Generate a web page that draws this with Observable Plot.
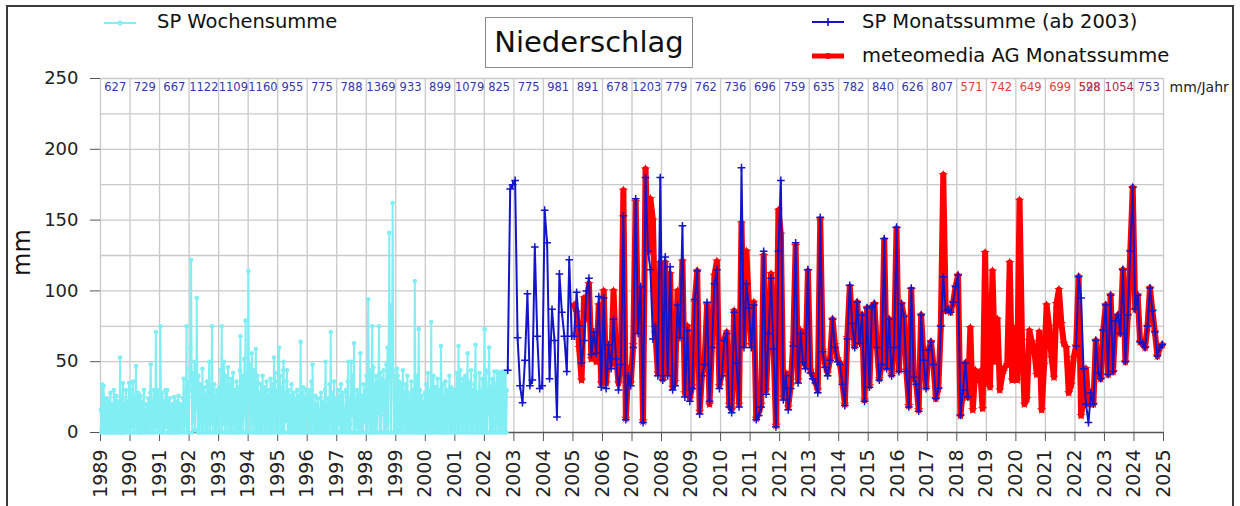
<!DOCTYPE html>
<html><head><meta charset="utf-8">
<script src="https://cdn.jsdelivr.net/npm/d3@7"></script>
<script src="https://cdn.jsdelivr.net/npm/@observablehq/plot@0.6"></script>
<style>
body{margin:0;background:#fff;font-family:"DejaVu Sans",Verdana,sans-serif;}
#wrap{position:relative;width:1240px;height:506px;overflow:hidden;}
#chart{position:absolute;left:0;top:0;}
.ov{position:absolute;white-space:nowrap;color:#111;}
#outer{position:absolute;left:6px;top:5px;width:1228px;height:560px;border:2px solid #3a3a3a;box-sizing:border-box;}
#title{position:absolute;left:485px;top:17px;width:208px;height:51px;border:1px solid #8a8a8a;box-sizing:border-box;background:#fff;font-size:29px;line-height:49px;text-align:center;color:#111;}
</style></head>
<body><div id="wrap"><div id="chart"></div>
<div id="outer"></div>
<div id="title">Niederschlag</div>
<svg class="ov" style="left:98px;top:12px" width="44" height="22"><line x1="6" y1="11" x2="38" y2="11" stroke="#80eef2" stroke-width="2"/><circle cx="22" cy="11" r="2.5" fill="#80eef2"/></svg>
<div class="ov" style="left:157px;top:10px;font-size:19.5px;line-height:24px">SP Wochensumme</div>
<svg class="ov" style="left:808px;top:11px" width="40" height="22"><line x1="4" y1="11" x2="36" y2="11" stroke="#1414c8" stroke-width="2"/><line x1="20" y1="7" x2="20" y2="15" stroke="#1414c8" stroke-width="1.6"/></svg>
<div class="ov" style="left:862px;top:10px;font-size:19.5px;line-height:24px">SP Monatssumme (ab 2003)</div>
<svg class="ov" style="left:808px;top:45px" width="40" height="22"><line x1="4" y1="11" x2="36" y2="11" stroke="#ff0000" stroke-width="5"/><circle cx="20" cy="11" r="3" fill="#ff0000"/></svg>
<div class="ov" style="left:862px;top:44px;font-size:19.5px;line-height:24px">meteomedia AG Monatssumme</div>
<div class="ov" style="left:0px;top:241px;width:44px;height:26px;font-size:24px;line-height:26px;text-align:center;transform:rotate(-90deg);">mm</div>
</div>
<script>
// ---- weekly sums SP (cyan), 1989 .. Oct 2002 ----
const w1989 = [16,0,34,33,2,33,20,0,0,18,24,0,3,22,15,0,8,28,0,4,20,0,9,30,16,0,12,26,0,0,14,22,0,2,53,0,18,0,24,35,0,4,20,0,30,2,15,22,0,10,35,0];
const w1990 = [35,0,30,4,22,36,0,0,25,14,47,0,20,3,28,0,0,18,26,0,14,0,22,2,30,4,16,0,9,20,0,2,24,0,18,28,48,0,22,0,14,30,0,20,4,71,28,0,30,8,26,0];
const w1991 = [10,75,20,0,28,12,0,22,0,14,30,4,18,30,0,0,16,24,0,12,2,20,0,14,0,25,0,18,4,22,0,0,12,26,0,16,2,20,0,14,4,24,38,0,6,30,20,75,0,4,36,0];
const w1992 = [30,45,60,122,38,0,42,8,30,50,2,36,18,95,28,0,40,22,0,34,18,26,0,45,20,0,32,14,26,0,22,36,0,18,28,50,0,24,6,30,75,0,28,10,34,0,8,26,0,30,4,22];
const w1993 = [20,32,0,44,28,75,0,36,6,50,24,0,40,8,30,0,46,12,26,0,34,38,0,22,10,42,0,30,6,26,0,36,20,0,32,24,0,44,68,0,30,10,40,0,14,52,28,79,0,36,0,26];
const w1994 = [114,30,48,0,40,24,56,0,36,20,44,0,8,59,30,0,40,35,0,28,22,0,34,16,0,40,10,24,0,32,8,0,36,14,26,0,22,30,0,38,18,0,8,34,0,53,28,42,0,30,24,0];
const w1995 = [36,0,60,18,40,0,12,32,0,44,50,0,28,8,24,36,44,0,20,30,0,16,26,0,34,4,22,0,28,10,0,24,2,20,30,0,16,26,0,22,64,0,6,28,0,32,20,0,24,0,30,12];
const w1996 = [18,26,0,30,4,20,0,36,8,48,0,12,0,18,26,0,14,20,0,24,0,16,0,12,28,0,18,4,22,0,6,30,50,0,20,0,16,24,0,34,14,71,0,10,28,0,18,36,0,24,4,0];
const w1997 = [22,0,30,6,18,26,0,34,2,20,0,28,8,16,0,4,30,0,20,36,50,0,22,6,0,50,12,26,40,0,63,0,24,4,20,30,0,16,28,0,22,56,0,18,4,26,0,34,8,20,30,0];
const w1998 = [40,0,50,94,36,0,44,30,0,38,75,0,46,18,34,0,28,40,0,14,36,30,75,0,42,12,0,38,16,30,44,0,24,36,0,48,28,60,0,50,141,40,70,0,90,55,162,44,0,40,22,0];
const w1999 = [30,0,45,40,0,36,24,0,35,28,0,30,44,20,0,26,18,34,0,22,40,0,28,16,0,10,20,36,0,24,8,30,0,107,22,0,28,40,0,24,73,0,30,20,0,26,14,0,4,22,0,28];
const w2000 = [20,34,0,26,42,0,30,18,0,14,78,0,10,28,40,0,24,6,32,0,12,38,0,8,18,30,0,61,22,0,34,16,0,4,24,36,0,20,30,0,26,18,40,0,22,32,0,28,6,0,16,30];
const w2001 = [24,0,18,42,28,0,61,30,0,44,12,34,0,8,38,22,0,16,40,24,0,32,56,0,28,12,36,0,44,26,0,30,22,0,34,40,62,0,28,16,0,12,26,42,0,30,10,0,38,20,0,32];
const w2002 = [73,0,44,20,0,14,28,42,60,0,32,24,0,38,22,0,16,43,26,0,34,20,43,0,28,18,42,0,14,36,43,0,10,30,43,0,26,42,0,30];
const weeklyYears = [1989,1990,1991,1992,1993,1994,1995,1996,1997,1998,1999,2000,2001,2002];
const weeklyLists = [w1989,w1990,w1991,w1992,w1993,w1994,w1995,w1996,w1997,w1998,w1999,w2000,w2001,w2002];

// ---- monthly sums SP (blue), from Oct 2002 ----
const sp2002 = [44,172,175]; // Oct-Dec
const sp2003 = [178,67,33,21,51,98,33,37,131,68,31,33];
const sp2004 = [157,134,38,87,65,11,112,85,68,43,122,68];
const sp2005 = [68,99,75,49,65,100,109,55,71,56,96,32];
const sp2006 = [95,31,62,45,80,52,30,48,153,9,40,33];
const sp2007 = [60,165,70,103,7,180,128,115,66,75,40,180];
const sp2008 = [37,124,40,117,30,33,90,67,146,25,72,22];
const sp2009 = [31,94,114,13,40,48,92,22,60,105,115,31];
const sp2010 = [40,65,70,18,14,85,49,18,187,60,105,88];
const sp2011 = [60,90,9,12,18,128,27,70,109,59,4,128];
const sp2012 = [178,23,40,16,31,61,134,35,70,50,45,115];
const sp2013 = [42,38,35,28,152,57,46,40,51,80,60,50];
const sp2014 = [48,34,19,66,104,77,60,92,63,83,22,88];
const sp2015 = [32,89,91,60,37,48,137,45,80,40,60,145];
const sp2016 = [43,91,82,43,18,102,39,34,15,83,51,31];
const sp2017 = [58,64,48,24,31,75,110,86,87,85,92,103];
const sp2018 = [111,12,30,49,25,null,null,null,null,null,null,null];
const sp2019 = [null,null,null,null,null,null,null,null,null,null,null,null];
const sp2020 = [null,null,null,null,null,null,null,null,null,null,null,null];
const sp2021 = [null,null,null,null,null,null,null,null,null,null,null,null];
const sp2022 = [61,110,95,45,20,7,28,20,65,42,38,72];
const sp2023 = [90,41,97,43,79,83,70,115,50,83,128,173];
const sp2024 = [87,97,64,63,60,75,102,86,71,54,60,62];

// ---- monthly sums meteomedia AG (red), from Jan 2005 ----
const mm2005 = [90,85,60,37,95,80,105,52,68,50,90,35];
const mm2006 = [100,35,60,48,100,55,35,50,171,10,45,35];
const mm2007 = [62,163,72,100,8,186,128,165,150,70,42,120];
const mm2008 = [38,120,42,112,32,36,100,70,121,28,75,24];
const mm2009 = [33,92,114,15,42,50,90,20,62,111,121,33];
const mm2010 = [42,66,71,20,16,86,50,20,148,62,128,90];
const mm2011 = [62,92,10,14,20,125,30,72,112,62,5,157];
const mm2012 = [140,25,42,18,33,63,132,37,72,52,47,114];
const mm2013 = [44,40,36,30,150,58,48,42,52,80,62,52];
const mm2014 = [49,35,20,67,103,78,61,92,64,83,23,88];
const mm2015 = [33,89,91,61,38,49,136,46,80,41,61,144];
const mm2016 = [44,91,82,44,19,101,40,35,16,83,52,32];
const mm2017 = [58,64,48,24,31,75,182,86,87,85,92,103];
const mm2018 = [111,12,30,49,25,74,16,44,37,43,17,127];
const mm2019 = [37,32,114,50,80,30,41,46,48,120,37,73];
const mm2020 = [37,164,65,20,24,72,64,58,41,71,16,48];
const mm2021 = [90,75,53,39,91,101,77,63,60,28,34,53];
const mm2022 = [61,110,12,24,45,20,28,20,65,42,38,72];
const mm2023 = [90,41,97,43,79,83,70,115,50,83,128,173];
const mm2024 = [87,97,64,63,60,75,102,86,71,54,60,62];

// ---- annual totals row (mm/Jahr) ----
const annualYears = d3.range(1989, 2025);
const annualValues = [627,729,667,1122,1109,1160,955,775,788,1369,933,899,1079,825,775,981,891,678,1203,779,762,736,696,759,635,782,840,626,807,571,742,649,699,598,1054,753];
const annualSource = ["sp","sp","sp","sp","sp","sp","sp","sp","sp","sp","sp","sp","sp","sp","sp","sp","sp","sp","sp","sp","sp","sp","sp","sp","sp","sp","sp","sp","sp","mm","mm","mm","mm","mm","mix","sp"];
const extraYears = [2022];
const extraValues = [528];

const yearTicks = d3.range(1989, 2026);
const yTicks = [0,50,100,150,200,250];
const yGrid = [25,50,75,100,125,150,175,200,225,250];

// build tables
const weekly = [];
weeklyYears.forEach((y, k) => {
  const arr = weeklyLists[k];
  const n = y === 2002 ? 52 : arr.length;
  arr.forEach((v, i) => weekly.push({t: y + (i + 0.5) / n, v}));
});
const spYears = d3.range(2003, 2025);
const spLists = [sp2003,sp2004,sp2005,sp2006,sp2007,sp2008,sp2009,sp2010,sp2011,sp2012,sp2013,sp2014,sp2015,sp2016,sp2017,sp2018,sp2019,sp2020,sp2021,sp2022,sp2023,sp2024];
const sp = [];
sp2002.forEach((v, i) => sp.push({t: 2002 + (i + 9.5) / 12, v}));
spYears.forEach((y, k) => spLists[k].forEach((v, i) => sp.push({t: y + (i + 0.5) / 12, v})));
const mmYears = d3.range(2005, 2025);
const mmLists = [mm2005,mm2006,mm2007,mm2008,mm2009,mm2010,mm2011,mm2012,mm2013,mm2014,mm2015,mm2016,mm2017,mm2018,mm2019,mm2020,mm2021,mm2022,mm2023,mm2024];
const mm = [];
mmYears.forEach((y, k) => mmLists[k].forEach((v, i) => mm.push({t: y + (i + 0.5) / 12, v})));
const annual = annualYears.map((y, i) => ({y, v: annualValues[i], s: annualSource[i]}));
const extra = extraYears.map((y, i) => ({y, v: extraValues[i]}));
const colorOf = {sp: "#3535b0", mm: "#e23a3a", mix: "#b8174e"};

const cyan = "#80eef2", blue = "#1414c8", red = "#ff0000";
const rowY = 243.5;

const chart = Plot.plot({
  width: 1240, height: 506,
  marginTop: 78, marginRight: 77, marginBottom: 74, marginLeft: 100,
  x: {domain: [1989, 2025]},
  y: {domain: [0, 250]},
  style: {fontFamily: "'DejaVu Sans', Verdana, sans-serif", color: "#222", background: "transparent"},
  marks: [
    Plot.ruleY(yGrid, {stroke: "#c9c9c9", strokeWidth: 1.3}),
    Plot.ruleX(yearTicks, {stroke: "#c9c9c9", strokeWidth: 1.3}),
    Plot.ruleY([0], {stroke: "#555", strokeWidth: 1.3}),
    Plot.axisY({ticks: yTicks, tickSize: 10, tickPadding: 12, fontSize: 18, label: null, stroke: "#555"}),
    Plot.axisX({ticks: yearTicks, tickFormat: d => String(d), tickRotate: -90, tickSize: 9, tickPadding: 8, fontSize: 19, label: null, stroke: "#555"}),
    Plot.line(weekly, {x: "t", y: "v", stroke: cyan, strokeWidth: 2}),
    Plot.dot(weekly, {x: "t", y: "v", r: 2.3, fill: cyan, stroke: null}),
    Plot.line(mm, {x: "t", y: "v", stroke: red, strokeWidth: 6, strokeLinejoin: "round"}),
    Plot.dot(mm, {x: "t", y: "v", symbol: "star", r: 3, fill: red, stroke: null}),
    Plot.line(sp, {x: "t", y: "v", stroke: blue, strokeWidth: 2}),
    Plot.dot(sp.filter(d => d.v != null), {x: "t", y: "v", symbol: "plus", r: 2.6, stroke: blue, strokeWidth: 1.5}),
    Plot.text(extra, {x: d => d.y + 0.5, y: rowY, text: d => String(d.v), fill: colorOf.sp, fontSize: 11.5}),
    Plot.text(annual, {x: d => d.y + 0.5, y: rowY, text: d => String(d.v), fill: d => colorOf[d.s], fontSize: 11.5}),
    Plot.text(["mm/Jahr"], {x: 2025, y: rowY, text: d => d, dx: 6, textAnchor: "start", fill: "#222", fontSize: 14})
  ]
});
document.getElementById("chart").appendChild(chart);
</script>
</body></html>
